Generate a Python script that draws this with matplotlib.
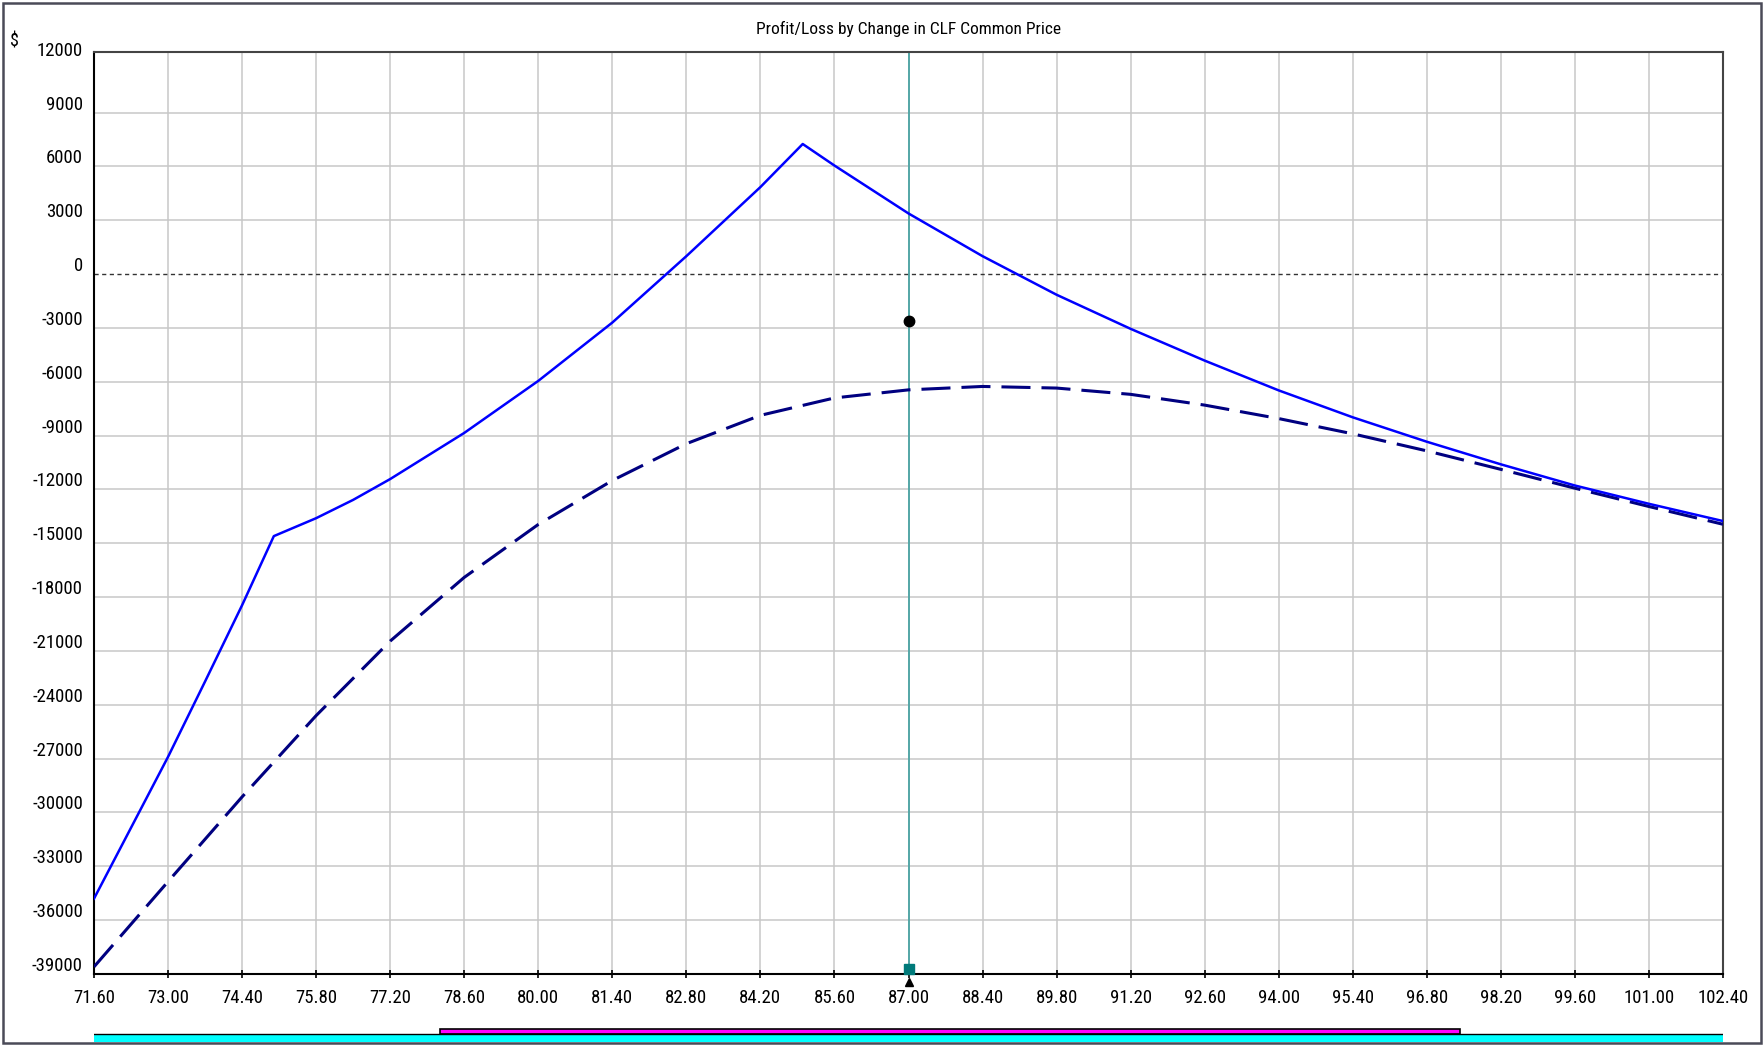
import numpy as np
import matplotlib
matplotlib.use('Agg')
import matplotlib.pyplot as plt
import matplotlib.transforms as mtransforms
from matplotlib.patches import Rectangle

plt.rcParams['font.family'] = ['Roboto Condensed', 'DejaVu Sans']

# P/L at expiration (solid) and today (dashed)
solid_x = [71.6, 72.3, 73.0, 73.7, 74.4, 75.0, 75.8, 76.5, 77.2, 78.6, 80.0, 81.4,
           82.8, 84.2, 85.0, 85.6, 87.0, 88.4, 89.8, 91.2, 92.6, 94.0, 95.4,
           96.8, 98.2, 99.6, 101.0, 102.4]
solid_y = [-34800, -30850, -26900, -22700, -18450, -14600, -13600, -12580, -11420,
           -8850, -5950, -2700, 1000, 4850, 7250, 6050, 3380, 1000, -1150, -3050,
           -4820, -6480, -7980, -9340, -10600, -11780, -12800, -13760]

dash_x = [71.6, 73.0, 74.4, 75.8, 77.2, 78.6, 80.0, 81.4, 82.8, 84.2, 85.6, 87.0,
          88.4, 89.8, 91.2, 92.6, 94.0, 95.4, 96.8, 98.2, 99.6, 101.0, 102.4]
dash_y = [-38600, -33850, -29130, -24600, -20450, -16900, -13950, -11500, -9450,
          -7870, -6900, -6450, -6260, -6350, -6700, -7300, -8050, -8900, -9850,
          -10880, -11930, -12950, -13940]

price_now = 87.0
pl_now = -2600
range_lo, range_hi = 78.14, 97.42

x_ticks = [71.6, 73.0, 74.4, 75.8, 77.2, 78.6, 80.0, 81.4, 82.8, 84.2, 85.6, 87.0,
           88.4, 89.8, 91.2, 92.6, 94.0, 95.4, 96.8, 98.2, 99.6, 101.0, 102.4]
y_ticks = [-39000, -36000, -33000, -30000, -27000, -24000, -21000, -18000, -15000,
           -12000, -9000, -6000, -3000, 0, 3000, 6000, 9000, 12000]

W, H = 1765, 1045
fig = plt.figure(figsize=(W / 100, H / 100), dpi=100)
fig.patch.set_facecolor('white')

L, R, T, B = 94, 1723, 52.3, 974
ax = fig.add_axes([L / W, 1 - B / H, (R - L) / W, (B - T) / H])
ax.set_xlim(71.6, 102.4)
ax.set_ylim(-39000, 12360)

ax.set_xticks(x_ticks)
ax.set_xticklabels([f'{v:.2f}' for v in x_ticks])
ax.set_yticks(y_ticks)
ax.set_yticklabels([str(v) for v in y_ticks])
ax.tick_params(axis='x', direction='inout', length=6, width=1.2, pad=7.5, labelsize=13.5)
ax.tick_params(axis='y', length=0, pad=8, labelsize=13.5)

ax.grid(True, color='#c8c8c8', lw=1.1, zorder=0)
ax.set_axisbelow(True)
glines = ax.yaxis.get_gridlines()
glines[-1].set_visible(False)
glines[y_ticks.index(0)].set_visible(False)

# y labels sit a bit above their grid lines
offset = mtransforms.ScaledTranslation(0, 0.10, fig.dpi_scale_trans)
for lab in ax.get_yticklabels():
    lab.set_transform(lab.get_transform() + offset)

for s in ['left', 'bottom']:
    ax.spines[s].set_color('black')
    ax.spines[s].set_linewidth(1.5)
for s in ['top', 'right']:
    ax.spines[s].set_color('#444444')
    ax.spines[s].set_linewidth(1.5)

ax.axhline(0, color='#333333', lw=1.0, linestyle=(0, (3, 2.5)), zorder=2)
ax.axvline(price_now, color='#3fa0a0', lw=1.2, zorder=2)

ax.plot(dash_x, dash_y, color='#000080', lw=2.2, linestyle=(0, (9.5, 3.6)), zorder=3)
ax.plot(solid_x, solid_y, color='#0000ff', lw=1.8, zorder=4)
ax.plot([price_now], [pl_now], 'o', color='black', ms=7.5, zorder=5)

up = mtransforms.ScaledTranslation(0, 0.055, fig.dpi_scale_trans)
down = mtransforms.ScaledTranslation(0, -0.08, fig.dpi_scale_trans)
ax.plot([price_now], [-39000], 's', color='#007a7a', ms=7, clip_on=False,
        transform=ax.transData + up, zorder=6)
ax.plot([price_now], [-39000], '^', color='black', ms=6, clip_on=False,
        transform=ax.transData + down, zorder=6)

# range bars under the x axis
axb = fig.add_axes([L / W, 1 - 1041.7 / H, (R - L) / W, 13.4 / H])
axb.set_xlim(71.6, 102.4)
axb.set_ylim(0, 1)
axb.axis('off')
axb.add_patch(Rectangle((71.6, 0), 30.8, 0.55, facecolor='#00ffff', edgecolor='none'))
axb.axhline(0.55, color='black', lw=1.0)
axb.add_patch(Rectangle((range_lo, 0.55), range_hi - range_lo, 0.43,
                        facecolor='#ff00ff', edgecolor='black', lw=1.2))

fig.text((L + R) / 2 / W, 1 - 29 / H, 'Profit/Loss by Change in CLF Common Price',
         ha='center', va='center', fontsize=12.5)
fig.text(14 / W, 1 - 41 / H, '$', ha='center', va='center', fontsize=13)

fig.patches.append(Rectangle((2.5 / W, 2.5 / H), 1 - 6 / W, 1 - 5 / H,
                             transform=fig.transFigure, fill=False,
                             edgecolor='#4a4a58', lw=1.8))

fig.savefig('out.png', dpi=100)
